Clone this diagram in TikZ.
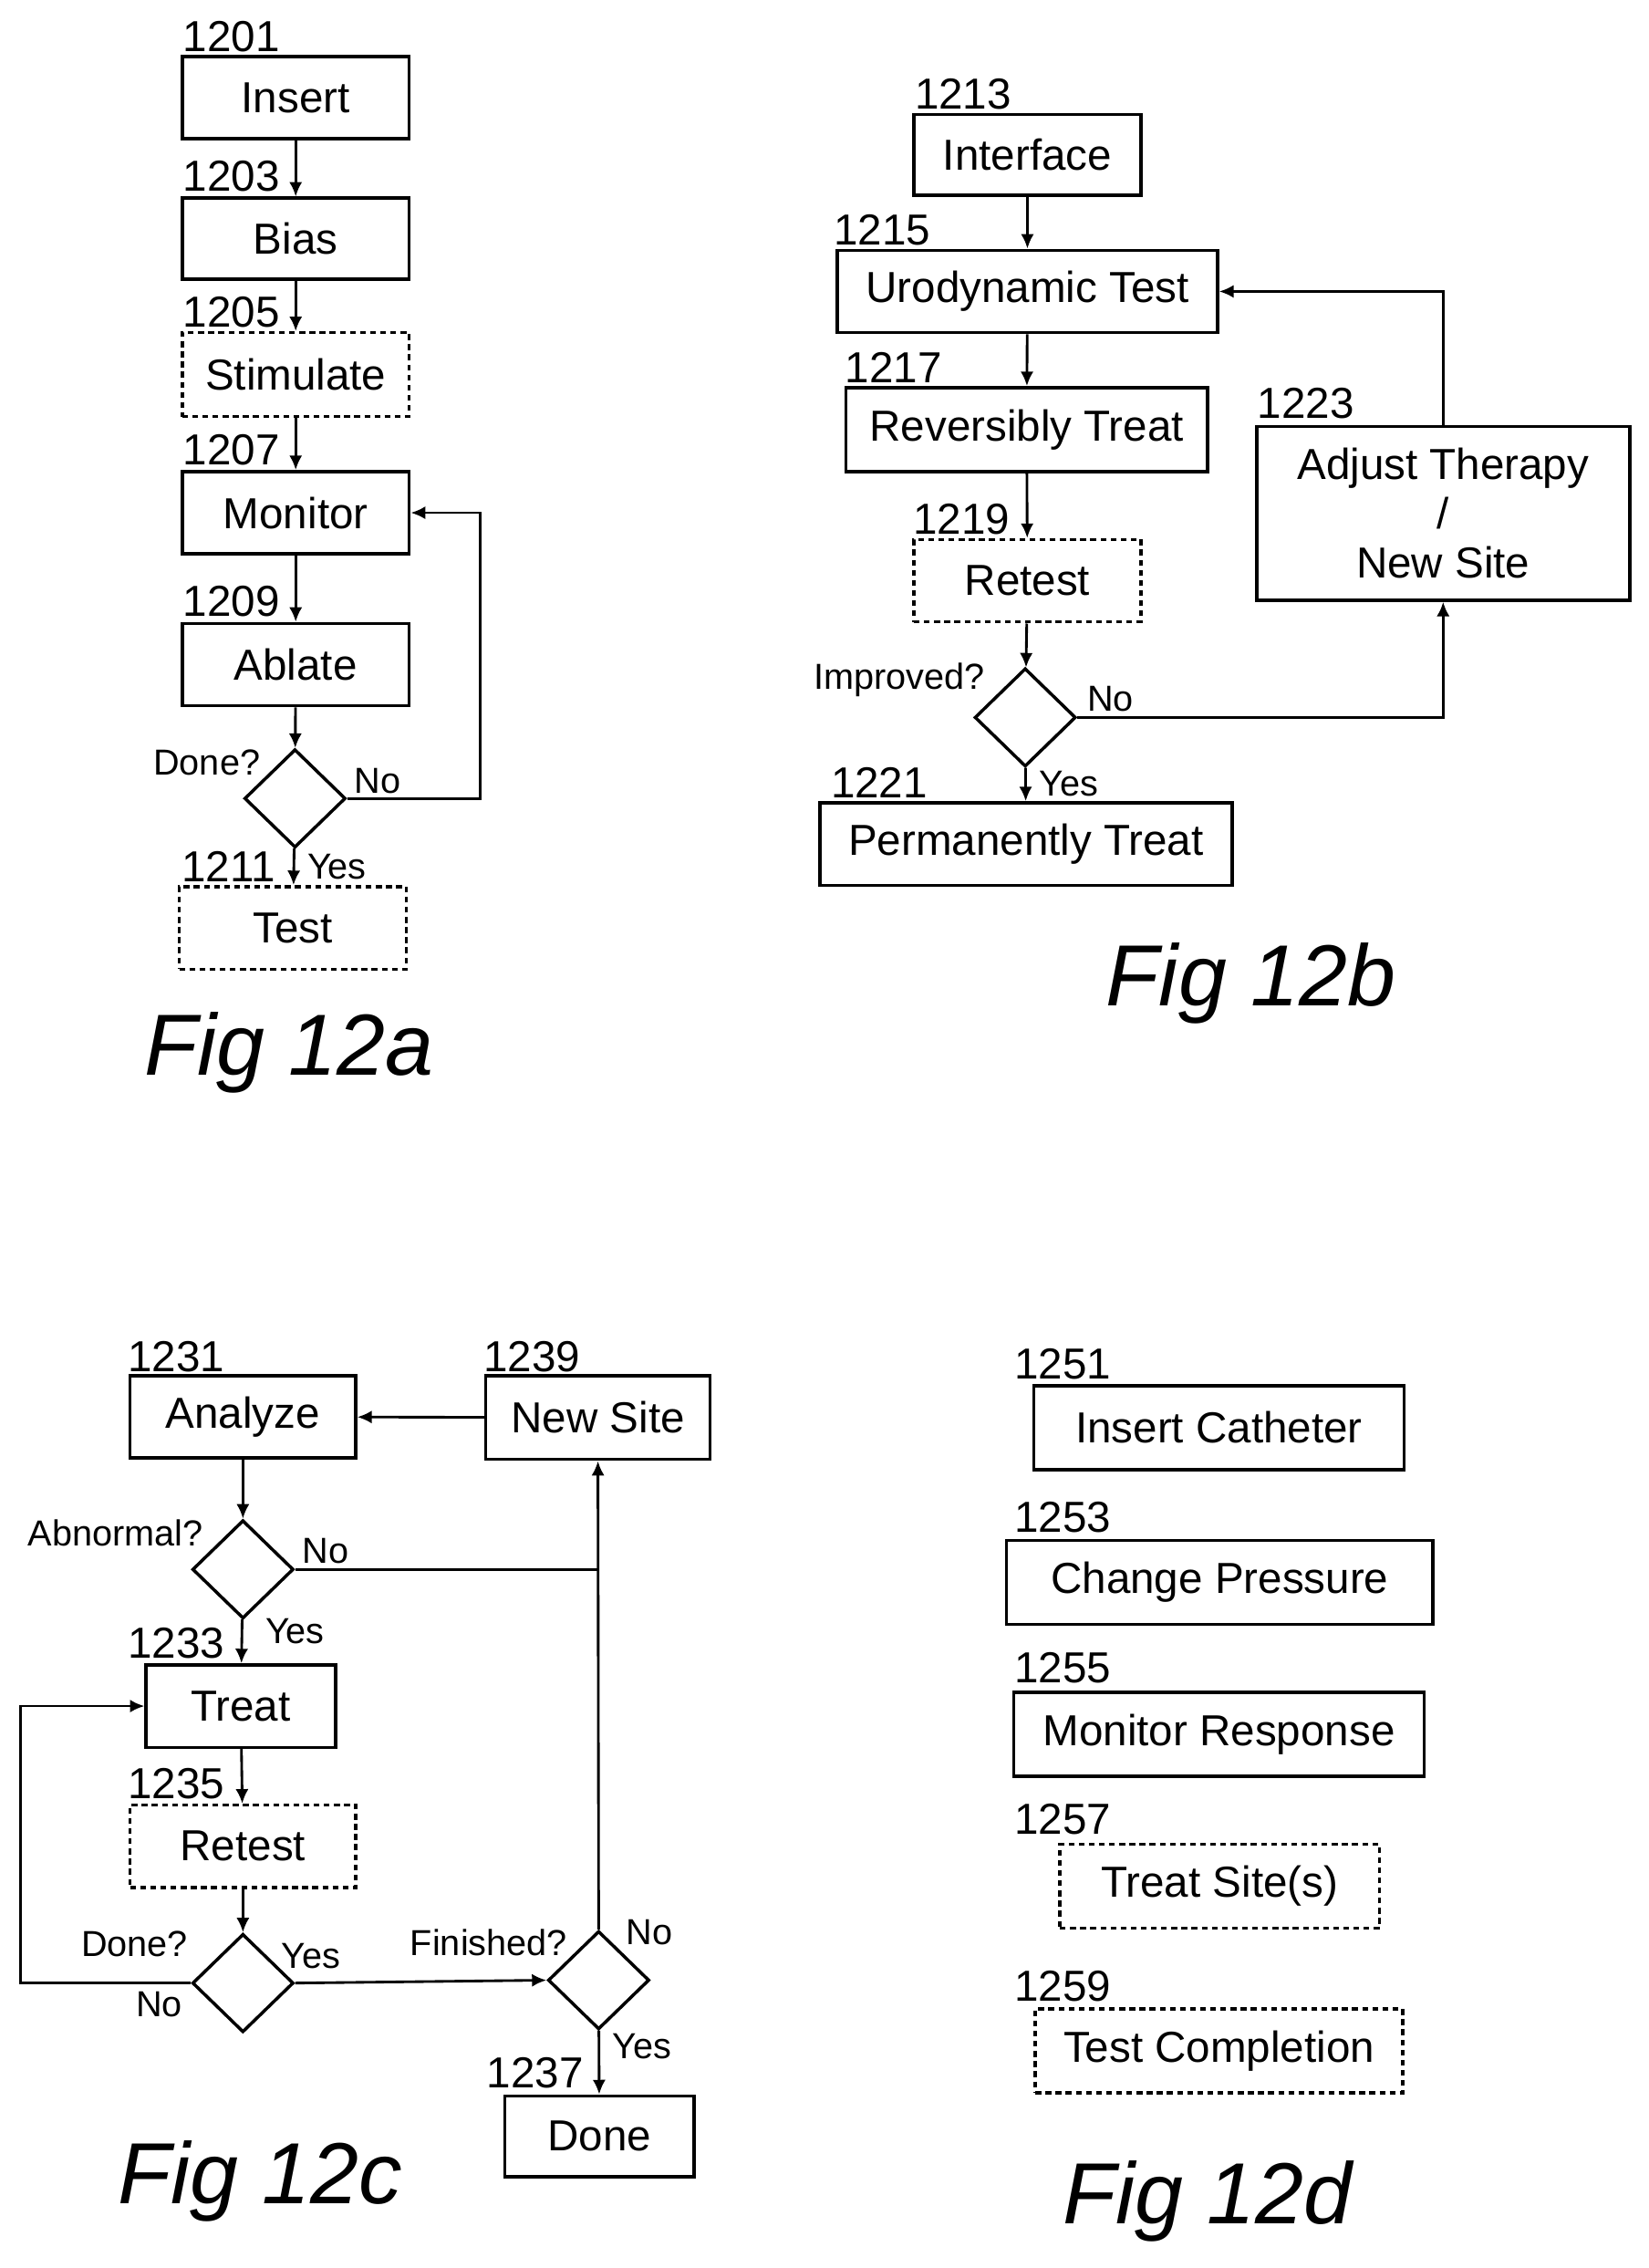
\documentclass[tikz,border=0pt]{standalone}
\usepackage{fontspec}
\setmainfont{Liberation Sans}
\usetikzlibrary{shapes.geometric,arrows.meta}
\tikzset{
  box/.style={draw,line width=2.2pt,inner sep=0pt,font=\fontsize{30}{32}\selectfont},
  dbox/.style={box,dashed,dash pattern=on 4pt off 3pt},
  dec/.style={draw,diamond,line width=2.2pt,minimum width=70pt,minimum height=68pt,inner sep=0pt},
  num/.style={font=\fontsize{30}{32}\selectfont,inner sep=0pt},
  lbl/.style={font=\fontsize{25}{27}\selectfont,inner sep=0pt},
  fig/.style={font=\fontsize{60}{64}\selectfont\itshape,inner sep=0pt},
  arr/.style={line width=1.8pt,-{Latex[length=10pt,width=9pt]}},
  ln/.style={line width=1.8pt}
}
\newcommand{\bx}[6]{% style, name, x1, y1, x2, y2
  \node[#1,minimum width=#5pt-#3pt,minimum height=#6pt-#4pt] (#2) at ({(#3+#5)/2},{(#4+#6)/2}) {};}
\begin{document}
\begin{tikzpicture}[x=1pt,y=-1pt]
\useasboundingbox (0,0) rectangle (1140,1568);
% Fig 12a
\bx{box}{ins}{126}{39}{283}{96} \node[num] at (ins) {Insert};
\bx{box}{bias}{126}{137}{283}{193} \node[num] at (bias) {Bias};
\bx{dbox}{stim}{126}{230}{283}{288} \node[num] at (stim) {Stimulate};
\bx{box}{mon}{126}{326}{283}{383} \node[num] at (mon) {Monitor};
\bx{box}{abl}{126}{431}{283}{488} \node[num] at (abl) {Ablate};
\node[dec] (done) at (204,552) {};
\bx{dbox}{test}{124}{613}{281}{670} \node[num] at (test) {Test};
\draw[arr] (ins) -- (bias);
\draw[arr] (bias) -- (stim);
\draw[arr] (stim) -- (mon);
\draw[arr] (mon) -- (abl);
\draw[arr] (abl) -- (done);
\draw[arr] (done) -- (test);
\draw[arr] (done.east) -- (332,552) |- (mon.east);
\node[num] at (160,25) {1201};
\node[num] at (160,122) {1203};
\node[num] at (160,216) {1205};
\node[num] at (160,311) {1207};
\node[num] at (160,416) {1209};
\node[num] at (158,599) {1211};
\node[lbl] at (143,527) {Done?};
\node[lbl] at (261,540) {No};
\node[lbl] at (233,599) {Yes};
\node[fig] at (200,728) {Fig 12a};
% Fig 12b
\bx{box}{intf}{632}{79}{789}{135} \node[num] at (intf) {Interface};
\bx{box}{uro}{579}{173}{842}{230} \node[num] at (uro) {Urodynamic Test};
\bx{box}{rev}{585}{268}{835}{326} \node[num] at (rev) {Reversibly Treat};
\bx{dbox}{ret}{632}{373}{789}{430} \node[num] at (ret) {Retest};
\node[dec] (impr) at (709,496) {};
\bx{box}{perm}{567}{555}{852}{612} \node[num] at (perm) {Permanently Treat};
\bx{box}{adj}{869}{295}{1127}{415}
\node[num,align=center] at (adj) {Adjust Therapy\\[2pt]/\\[2pt]New Site};
\draw[arr] (intf) -- (uro);
\draw[arr] (uro) -- (rev);
\draw[arr] (rev) -- (ret);
\draw[arr] (ret) -- (impr);
\draw[arr] (impr) -- (perm);
\draw[arr] (impr.east) -| (adj.south);
\draw[arr] (adj.north) |- (uro.east);
\node[num] at (666,65) {1213};
\node[num] at (610,159) {1215};
\node[num] at (618,254) {1217};
\node[num] at (665,359) {1219};
\node[num] at (608,541) {1221};
\node[num] at (903,279) {1223};
\node[lbl] at (622,470) {Improved?};
\node[lbl] at (768,483) {No};
\node[lbl] at (739,542) {Yes};
\node[fig] at (865,680) {Fig 12b};
% Fig 12c
\bx{box}{ana}{90}{951}{246}{1008} \node[num] at (ana) {Analyze};
\bx{box}{nsite}{336}{951}{491}{1009} \node[num] at (nsite) {New Site};
\node[dec] (abn) at (168,1085) {};
\bx{box}{treat}{101}{1151}{232}{1208} \node[num] at (treat) {Treat};
\bx{dbox}{rtst}{90}{1248}{246}{1305} \node[num] at (rtst) {Retest};
\node[dec] (dn) at (168,1371) {};
\node[dec] (fin) at (414,1369) {};
\bx{box}{dne}{349}{1449}{480}{1505} \node[num] at (dne) {Done};
\coordinate (jn) at (fin.north |- abn.east);
\draw[arr] (nsite) -- (ana);
\draw[arr] (ana) -- (abn);
\draw[ln] (abn.east) -- (jn);
\draw[arr] (fin.north) -- (nsite.south);
\draw[arr] (abn) -- (treat);
\draw[arr] (treat) -- (rtst);
\draw[arr] (rtst) -- (dn);
\draw[arr] (dn.west) -- (14,1371) |- (treat.west);
\draw[arr] (dn.east) -- (fin.west);
\draw[arr] (fin) -- (dne);
\node[num] at (122,938) {1231};
\node[num] at (368,938) {1239};
\node[num] at (122,1136) {1233};
\node[num] at (122,1233) {1235};
\node[num] at (370,1433) {1237};
\node[lbl] at (80,1060) {Abnormal?};
\node[lbl] at (225,1072) {No};
\node[lbl] at (204,1128) {Yes};
\node[lbl] at (93,1344) {Done?};
\node[lbl] at (215,1352) {Yes};
\node[lbl] at (110,1386) {No};
\node[lbl] at (338,1343) {Finished?};
\node[lbl] at (449,1336) {No};
\node[lbl] at (444,1415) {Yes};
\node[fig] at (180,1508) {Fig 12c};
% Fig 12d
\bx{box}{cath}{715}{958}{971}{1016} \node[num] at (cath) {Insert Catheter};
\bx{box}{pres}{696}{1065}{991}{1123} \node[num] at (pres) {Change Pressure};
\bx{box}{resp}{701}{1170}{985}{1228} \node[num] at (resp) {Monitor Response};
\bx{dbox}{tsite}{733}{1275}{954}{1333} \node[num] at (tsite) {Treat Site(s)};
\bx{dbox}{tcomp}{716}{1389}{970}{1447} \node[num] at (tcomp) {Test Completion};
\node[num] at (735,943) {1251};
\node[num] at (735,1049) {1253};
\node[num] at (735,1153) {1255};
\node[num] at (735,1258) {1257};
\node[num] at (735,1373) {1259};
\node[fig] at (835,1522) {Fig 12d};
\end{tikzpicture}
\end{document}
